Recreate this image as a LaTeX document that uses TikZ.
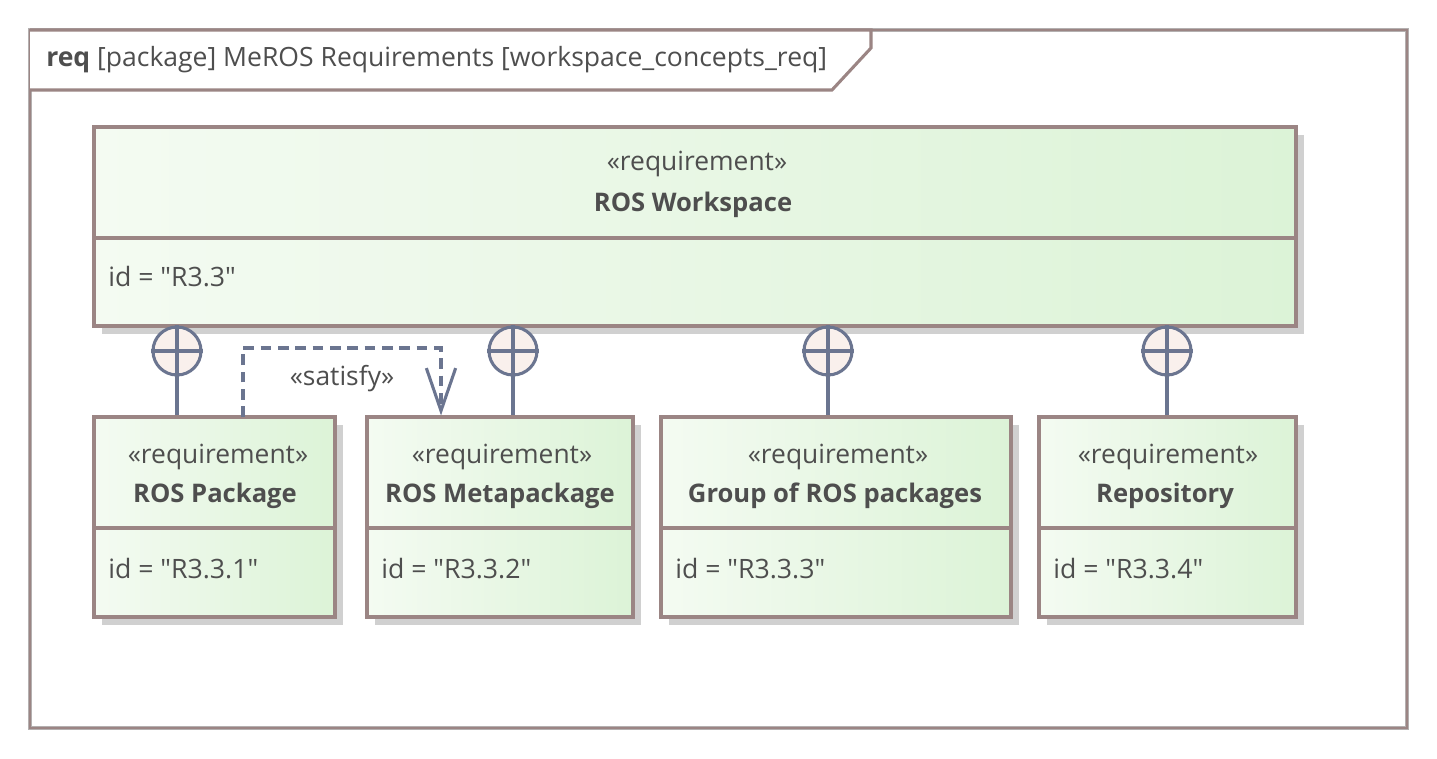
\documentclass[tikz,border=0pt]{standalone}
\usepackage{fontspec}
\setmainfont{Open Sans}[Ligatures=TeXOff]
\usetikzlibrary{fit,arrows.meta,calc}
\definecolor{boxline}{HTML}{9B8584}
\definecolor{framegray}{HTML}{B4B0B0}
\definecolor{conncol}{HTML}{6B7590}
\definecolor{circfill}{HTML}{F9F0EC}
\definecolor{txt}{HTML}{4E4E4E}
\definecolor{gleft}{HTML}{F4FBF2}
\definecolor{gright}{HTML}{DCF3D7}
\definecolor{shadowc}{HTML}{D0D0D0}
\tikzset{
  reqbox/.style={draw=boxline, line width=2.3pt, left color=gleft, right color=gright, inner sep=0pt},
  divider/.style={draw=boxline, line width=2.3pt},
  contcirc/.style={circle, draw=conncol, line width=2.3pt, fill=circfill, minimum size=36pt, inner sep=0pt},
  conn/.style={draw=conncol, line width=2.3pt},
  satline/.style={draw=conncol, line width=2.3pt, dash pattern=on 8pt off 5pt, -{Straight Barb[length=32pt,width=22pt,line width=2.3pt]}},
  stereo/.style={font=\fontsize{19.8}{22}\selectfont, text=txt, anchor=base, inner sep=0pt},
  rname/.style={font=\fontsize{19.2}{22}\selectfont\bfseries, text=txt, anchor=base, inner sep=0pt},
  idtxt/.style={font=\fontsize{20}{22}\selectfont, text=txt, anchor=base west, inner sep=0pt},
}
\begin{document}
\begin{tikzpicture}[x=0.75pt,y=-0.75pt]
\useasboundingbox (0,0) rectangle (1437,759);
\fill[white] (0,0) rectangle (1437,759);
% frame
\draw[framegray, line width=3.6pt] (30,30) rectangle (1407,728);
\draw[boxline, line width=2.2pt] (30,30) rectangle (1407,728);
\draw[boxline, line width=2.3pt, fill=white] (30,30) -- (871,30) -- (871,48) -- (832,90) -- (30,90);
\node[anchor=base west, inner sep=0pt, text=txt, font=\fontsize{19.9}{22}\selectfont] (title) at (46,67) {\textbf{req} [package] MeROS Requirements [workspace\_concepts\_req]};
% shadows
\fill[shadowc] (102,135) rectangle (1304,334);
\fill[shadowc] (102,425) rectangle (343,625);
\fill[shadowc] (375,425) rectangle (641,625);
\fill[shadowc] (669,425) rectangle (1019,625);
\fill[shadowc] (1047,425) rectangle (1304,625);
% boxes
\node[reqbox, fit={(94,127)(1296,326)}] (ws) {};
\draw[divider] (94,238) -- (1296,238);
\node[stereo] (wsst) at (697,171) {«requirement»};
\node[rname] (wsn) at (693,212) {ROS Workspace};
\node[idtxt] (wsid) at (108,286) {id = "R3.3"};

\node[reqbox, fit={(94,417)(335,617)}] (pkg) {};
\draw[divider] (94,528) -- (335,528);
\node[stereo] (pkgst) at (218,463) {«requirement»};
\node[rname] (pkgn) at (215,502) {ROS Package};
\node[idtxt] (pkgid) at (108,578) {id = "R3.3.1"};

\node[reqbox, fit={(367,417)(633,617)}] (meta) {};
\draw[divider] (367,528) -- (633,528);
\node[stereo] (metast) at (502,463) {«requirement»};
\node[rname] (metan) at (500,502) {ROS Metapackage};
\node[idtxt] (metaid) at (381,578) {id = "R3.3.2"};

\node[reqbox, fit={(661,417)(1011,617)}] (grp) {};
\draw[divider] (661,528) -- (1011,528);
\node[stereo] (grpst) at (838,463) {«requirement»};
\node[rname] (grpn) at (835,502) {Group of ROS packages};
\node[idtxt] (grpid) at (675,578) {id = "R3.3.3"};

\node[reqbox, fit={(1039,417)(1296,617)}] (repo) {};
\draw[divider] (1039,528) -- (1296,528);
\node[stereo] (repost) at (1168,463) {«requirement»};
\node[rname] (repon) at (1165,502) {Repository};
\node[idtxt] (repoid) at (1053,578) {id = "R3.3.4"};

% containment
\foreach \n/\x/\t in {c1/177/pkg, c2/513/meta, c3/828/grp, c4/1167/repo}{
  \node[contcirc] (\n) at (\x,351) {};
  \draw[conn] (\n.north) -- (\n.south) (\n.west) -- (\n.east);
  \draw[conn] (\n.south) -- (\n.south |- \t.north);
}
% satisfy
\coordinate (sa) at (243,417);
\coordinate (sb) at (441,348);
\draw[satline] (sa) |- (sb) -- (sb |- meta.north);
\node[stereo] (satl) at (342,385) {«satisfy»};
\end{tikzpicture}
\end{document}
